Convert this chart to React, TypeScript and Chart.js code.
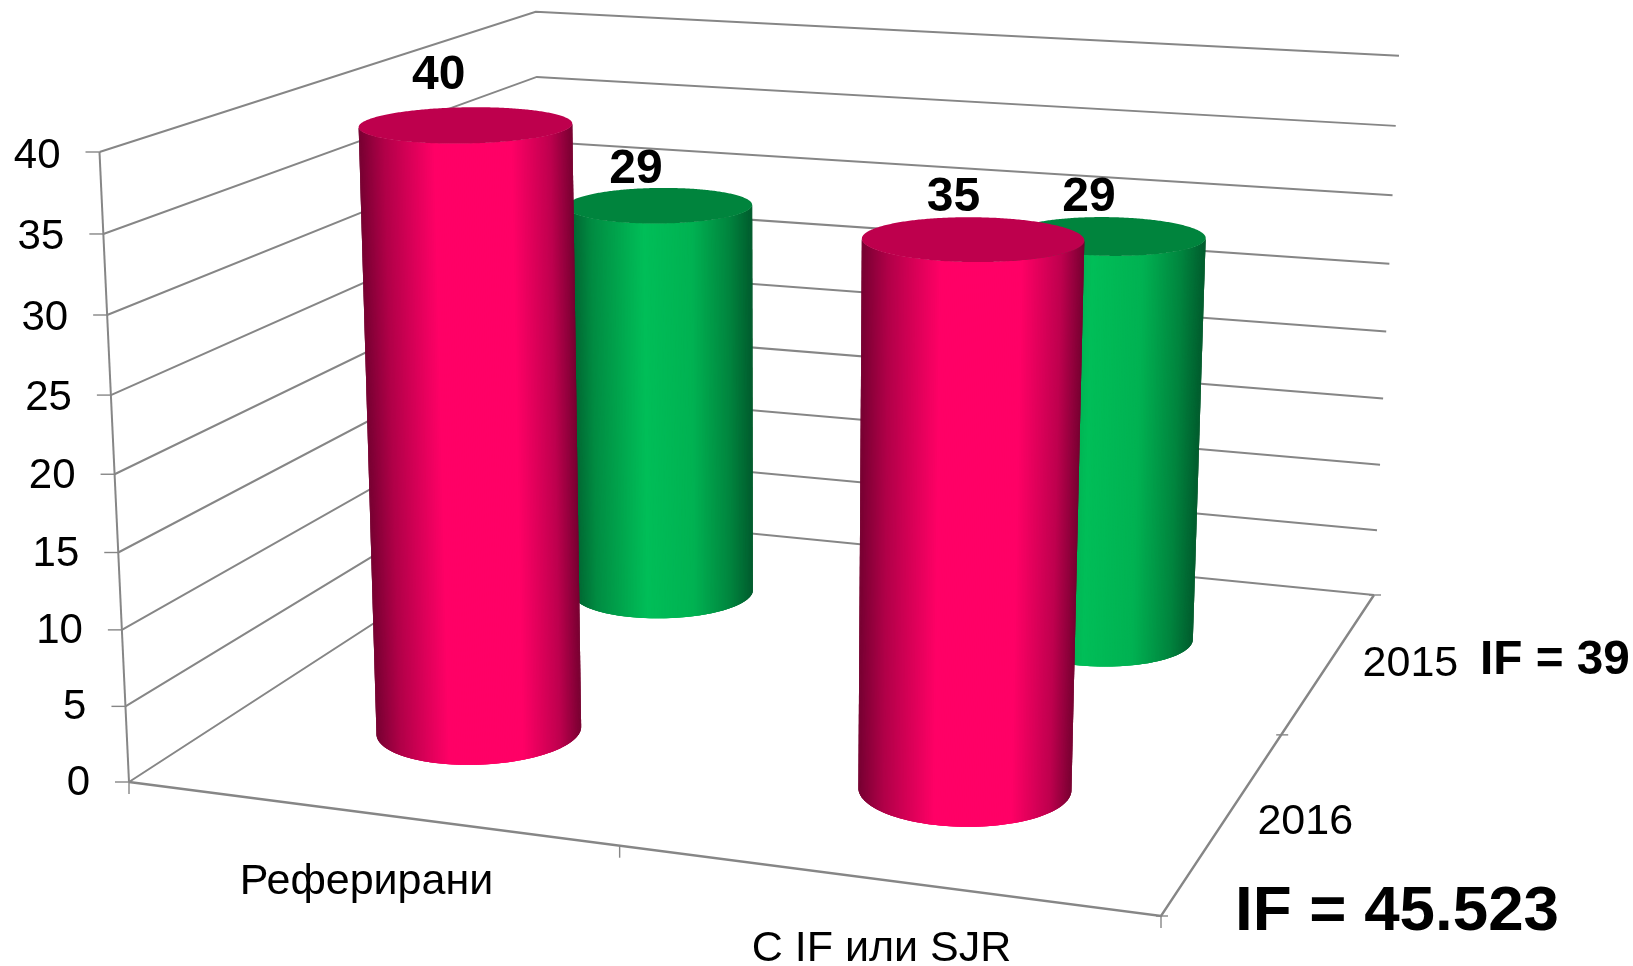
import React, { useEffect, useRef } from "react";
import { Chart, registerables } from "chart.js";

Chart.register(...registerables);

// Values shown on the chart
const categories = ["Реферирани", "С IF или SJR"];
const values2016 = [40, 35];
const values2015 = [29, 29];
const seriesNames = ["2016", "2015"];
const impactNotes = ["IF = 45.523", "IF = 39"];

const FONT = '"Liberation Sans", Arial, sans-serif';
const GRID = "#868686";

type Pt = { x: number; y: number };
type Quad = [Pt, Pt, Pt, Pt];

// Box corners on screen: front-left, front-right, back-right, back-left
const FLOOR: Quad = [
  { x: 129, y: 782 },
  { x: 1161, y: 916 },
  { x: 1374, y: 595 },
  { x: 544, y: 513 },
];
const CEILING: Quad = [
  { x: 99.5, y: 152 },
  { x: 1183, y: 226 },
  { x: 1399, y: 55.7 },
  { x: 535.7, y: 11.7 },
];
const HEIGHT_WEIGHT = 0.955;
const DEPTH_POSITION = [0.25, 0.75];
const DEPTH_RADIUS = 0.104;

function homography([p0, p1, p2, p3]: Quad) {
  const dx1 = p1.x - p2.x, dx2 = p3.x - p2.x, sx = p0.x - p1.x + p2.x - p3.x;
  const dy1 = p1.y - p2.y, dy2 = p3.y - p2.y, sy = p0.y - p1.y + p2.y - p3.y;
  const den = dx1 * dy2 - dx2 * dy1;
  const g = (sx * dy2 - dx2 * sy) / den;
  const h = (dx1 * sy - sx * dy1) / den;
  const a = p1.x - p0.x + g * p1.x, b = p3.x - p0.x + h * p3.x, c = p0.x;
  const d = p1.y - p0.y + g * p1.y, e = p3.y - p0.y + h * p3.y, f = p0.y;
  return (u: number, w: number): Pt => {
    const q = g * u + h * w + 1;
    return { x: (a * u + b * w + c) / q, y: (d * u + e * w + f) / q };
  };
}

const floorMap = homography(FLOOR);
const ceilingMap = homography(CEILING);

// Maps box coordinates (across, up, depth), each 0..1, to the screen
function project(u: number, v: number, w: number): Pt {
  const lo = floorMap(u, w);
  const hi = ceilingMap(u, w);
  const s = (v * HEIGHT_WEIGHT) / (1 - v + v * HEIGHT_WEIGHT);
  return { x: lo.x + (hi.x - lo.x) * s, y: lo.y + (hi.y - lo.y) * s };
}

function hex(rgb: number[]) {
  return `rgb(${rgb.map((c) => Math.round(c)).join(",")})`;
}

function shade(stops: [number, number[]][], s: number) {
  for (let i = 1; i < stops.length; i++) {
    if (s <= stops[i][0]) {
      const [s0, c0] = stops[i - 1];
      const [s1, c1] = stops[i];
      const t = (s - s0) / (s1 - s0);
      return hex(c0.map((c, k) => c + (c1[k] - c) * t));
    }
  }
  return hex(stops[stops.length - 1][1]);
}

const RED_BODY: [number, number[]][] = [
  [0, [118, 0, 50]],
  [0.12, [176, 0, 72]],
  [0.36, [255, 0, 102]],
  [0.72, [255, 0, 102]],
  [0.9, [190, 0, 78]],
  [1, [120, 0, 50]],
];
const GREEN_BODY: [number, number[]][] = [
  [0, [0, 92, 46]],
  [0.14, [0, 140, 66]],
  [0.42, [0, 190, 88]],
  [0.68, [0, 178, 82]],
  [0.88, [0, 132, 62]],
  [1, [0, 92, 46]],
];
const CAP_COLOUR = ["#be004d", "#00843d"];
const BODY_STOPS = [RED_BODY, GREEN_BODY];
const LABEL_SHIFT = [
  [{ x: -27, y: -49 }, { x: -19.5, y: -41 }],
  [{ x: -23.5, y: -36 }, { x: -19.5, y: -38 }],
];

function drawCylinder(
  ctx: CanvasRenderingContext2D,
  uc: number,
  ru: number,
  wc: number,
  v: number,
  stops: [number, number[]][],
  cap: string
) {
  const N = 360;
  const ring = (h: number) =>
    Array.from({ length: N }, (_, i) => {
      const a = (i / N) * Math.PI * 2;
      return project(uc + ru * Math.cos(a), h, wc + DEPTH_RADIUS * Math.sin(a));
    });
  const base = ring(0);
  const top = ring(v);

  const extent = (pts: Pt[]) => {
    let lo = 0, hi = 0;
    pts.forEach((p, i) => {
      if (p.x < pts[lo].x) lo = i;
      if (p.x > pts[hi].x) hi = i;
    });
    return { lo, hi };
  };
  const { lo, hi } = extent(base);
  const baseLeft = base[lo].x, baseRight = base[hi].x;
  const topExt = extent(top);
  const topLeft = top[topExt.lo].x, topRight = top[topExt.hi].x;

  // Near side of the ring, walked from the leftmost point to the rightmost
  const arc: number[] = [];
  const step = base[(lo + 1) % N].y > base[(lo + N - 1) % N].y ? 1 : -1;
  for (let i = lo; i !== hi; i = (i + step + N) % N) arc.push(i);
  arc.push(hi);

  // Each strip overlaps the next one, so no seams show between them
  for (let k = 0; k < arc.length - 1; k++) {
    const a = arc[k], b = arc[Math.min(k + 3, arc.length - 1)];
    const s = 0.5 * (
      (base[arc[k + 1]].x - baseLeft) / (baseRight - baseLeft) +
      (top[arc[k + 1]].x - topLeft) / (topRight - topLeft)
    );
    ctx.fillStyle = shade(stops, Math.min(1, Math.max(0, s)));
    ctx.beginPath();
    ctx.moveTo(base[a].x, base[a].y);
    ctx.lineTo(base[b].x, base[b].y);
    ctx.lineTo(top[b].x, top[b].y);
    ctx.lineTo(top[a].x, top[a].y);
    ctx.closePath();
    ctx.fill();
  }

  ctx.fillStyle = cap;
  ctx.beginPath();
  top.forEach((p, i) => (i ? ctx.lineTo(p.x, p.y) : ctx.moveTo(p.x, p.y)));
  ctx.closePath();
  ctx.fill();
}

function segment(ctx: CanvasRenderingContext2D, pts: Pt[], width = 2) {
  ctx.strokeStyle = GRID;
  ctx.lineWidth = width;
  ctx.lineJoin = "miter";
  ctx.beginPath();
  pts.forEach((p, i) => (i ? ctx.lineTo(p.x, p.y) : ctx.moveTo(p.x, p.y)));
  ctx.stroke();
}

function text(
  ctx: CanvasRenderingContext2D,
  s: string,
  x: number,
  y: number,
  size: number,
  bold = false,
  align: CanvasTextAlign = "center"
) {
  ctx.fillStyle = "#000";
  ctx.font = `${bold ? "bold " : ""}${size}px ${FONT}`;
  ctx.textAlign = align;
  ctx.textBaseline = "middle";
  ctx.fillText(s, x, y);
}

const unitHeight = (scale: any, value: number) =>
  (scale.bottom - scale.getPixelForValue(value)) / (scale.bottom - scale.top);

// Draws the walls, cylinders and every text of the perspective box
const boxPlugin = {
  id: "perspectiveBox",
  beforeDatasetsDraw(chart: any) {
    const { ctx, scales } = chart;
    const y = scales.y;
    ctx.save();
    y.ticks.forEach((tick: any) => {
      const v = unitHeight(y, tick.value);
      segment(ctx, [project(0, v, 0), project(0, v, 1), project(1, v, 1)]);
      const front = project(0, v, 0);
      segment(ctx, [{ x: front.x - 14, y: front.y }, front], 1.4);
      text(ctx, String(tick.label), front.x - 39, front.y + 1 + 3 * v, 42, false, "right");
    });
    // Front-left upright, floor edges and their tick marks
    segment(ctx, [project(0, 1, 0), project(0, 0, 0)]);
    segment(ctx, [project(0, 0, 0), project(1, 0, 0), project(1, 0, 1)], 2.4);
    [0, 0.5, 1].forEach((u) => {
      const p = project(u, 0, 0);
      segment(ctx, [p, { x: p.x, y: p.y + 12 }], 1.4);
    });
    [0, 0.5, 1].forEach((w) => {
      const p = project(1, 0, w);
      segment(ctx, [{ x: p.x - 5, y: p.y }, { x: p.x + 7, y: p.y }], 1.4);
    });
    ctx.restore();
  },
  beforeDatasetDraw(chart: any, args: any) {
    const { ctx, scales } = chart;
    const meta = chart.getDatasetMeta(args.index);
    ctx.save();
    meta.data.forEach((bar: any, i: number) => {
      const value = chart.data.datasets[args.index].data[i];
      drawCylinder(
        ctx,
        (bar.x - scales.x.left) / scales.x.width,
        bar.width / 2 / scales.x.width,
        DEPTH_POSITION[args.index],
        unitHeight(scales.y, value),
        BODY_STOPS[args.index],
        CAP_COLOUR[args.index]
      );
    });
    ctx.restore();
    return false;
  },
  afterDatasetsDraw(chart: any) {
    const { ctx, scales } = chart;
    ctx.save();
    chart.data.datasets.forEach((ds: any, index: number) => {
      const meta = chart.getDatasetMeta(index);
      meta.data.forEach((bar: any, i: number) => {
        const c = project(
          (bar.x - scales.x.left) / scales.x.width,
          unitHeight(scales.y, ds.data[i]),
          DEPTH_POSITION[index]
        );
        const shift = LABEL_SHIFT[index][i];
        text(ctx, String(ds.data[i]), c.x + shift.x, c.y + shift.y, 48, true);
      });
      const edge = project(1, 0, DEPTH_POSITION[index]);
      text(ctx, ds.label, edge.x + 80, edge.y + 3, 43);
    });
    chart.data.labels.forEach((label: string, i: number) => {
      const u = (scales.x.getPixelForValue(i) - scales.x.left) / scales.x.width;
      const p = project(u, 0, 0);
      text(ctx, label, p.x - 2, p.y + 69.5, 43);
    });
    text(ctx, impactNotes[0], 1235, 912, 63.7, true, "left");
    text(ctx, impactNotes[1], 1480, 661, 47.7, true, "left");
    ctx.restore();
  },
};

export default function App() {
  const ref = useRef<HTMLCanvasElement>(null);
  useEffect(() => {
    const chart = new Chart(ref.current as HTMLCanvasElement, {
      type: "bar",
      data: {
        labels: categories,
        datasets: [
          { label: seriesNames[0], data: values2016, backgroundColor: "#ff0066" },
          { label: seriesNames[1], data: values2015, backgroundColor: "#00b050" },
        ],
      },
      options: {
        responsive: false,
        animation: false,
        grouped: false,
        layout: { padding: 0 },
        datasets: { bar: { categoryPercentage: 1, barPercentage: 0.4 } },
        plugins: { legend: { display: false }, tooltip: { enabled: false } },
        scales: {
          x: { display: false, offset: true },
          y: { display: false, min: 0, max: 40, ticks: { stepSize: 5 } },
        },
      } as any,
      plugins: [boxPlugin],
    });
    return () => chart.destroy();
  }, []);
  return (
    <canvas
      ref={ref}
      width={1633}
      height={966}
      style={{ position: "fixed", left: 0, top: 0, display: "block", background: "#fff" }}
    />
  );
}
